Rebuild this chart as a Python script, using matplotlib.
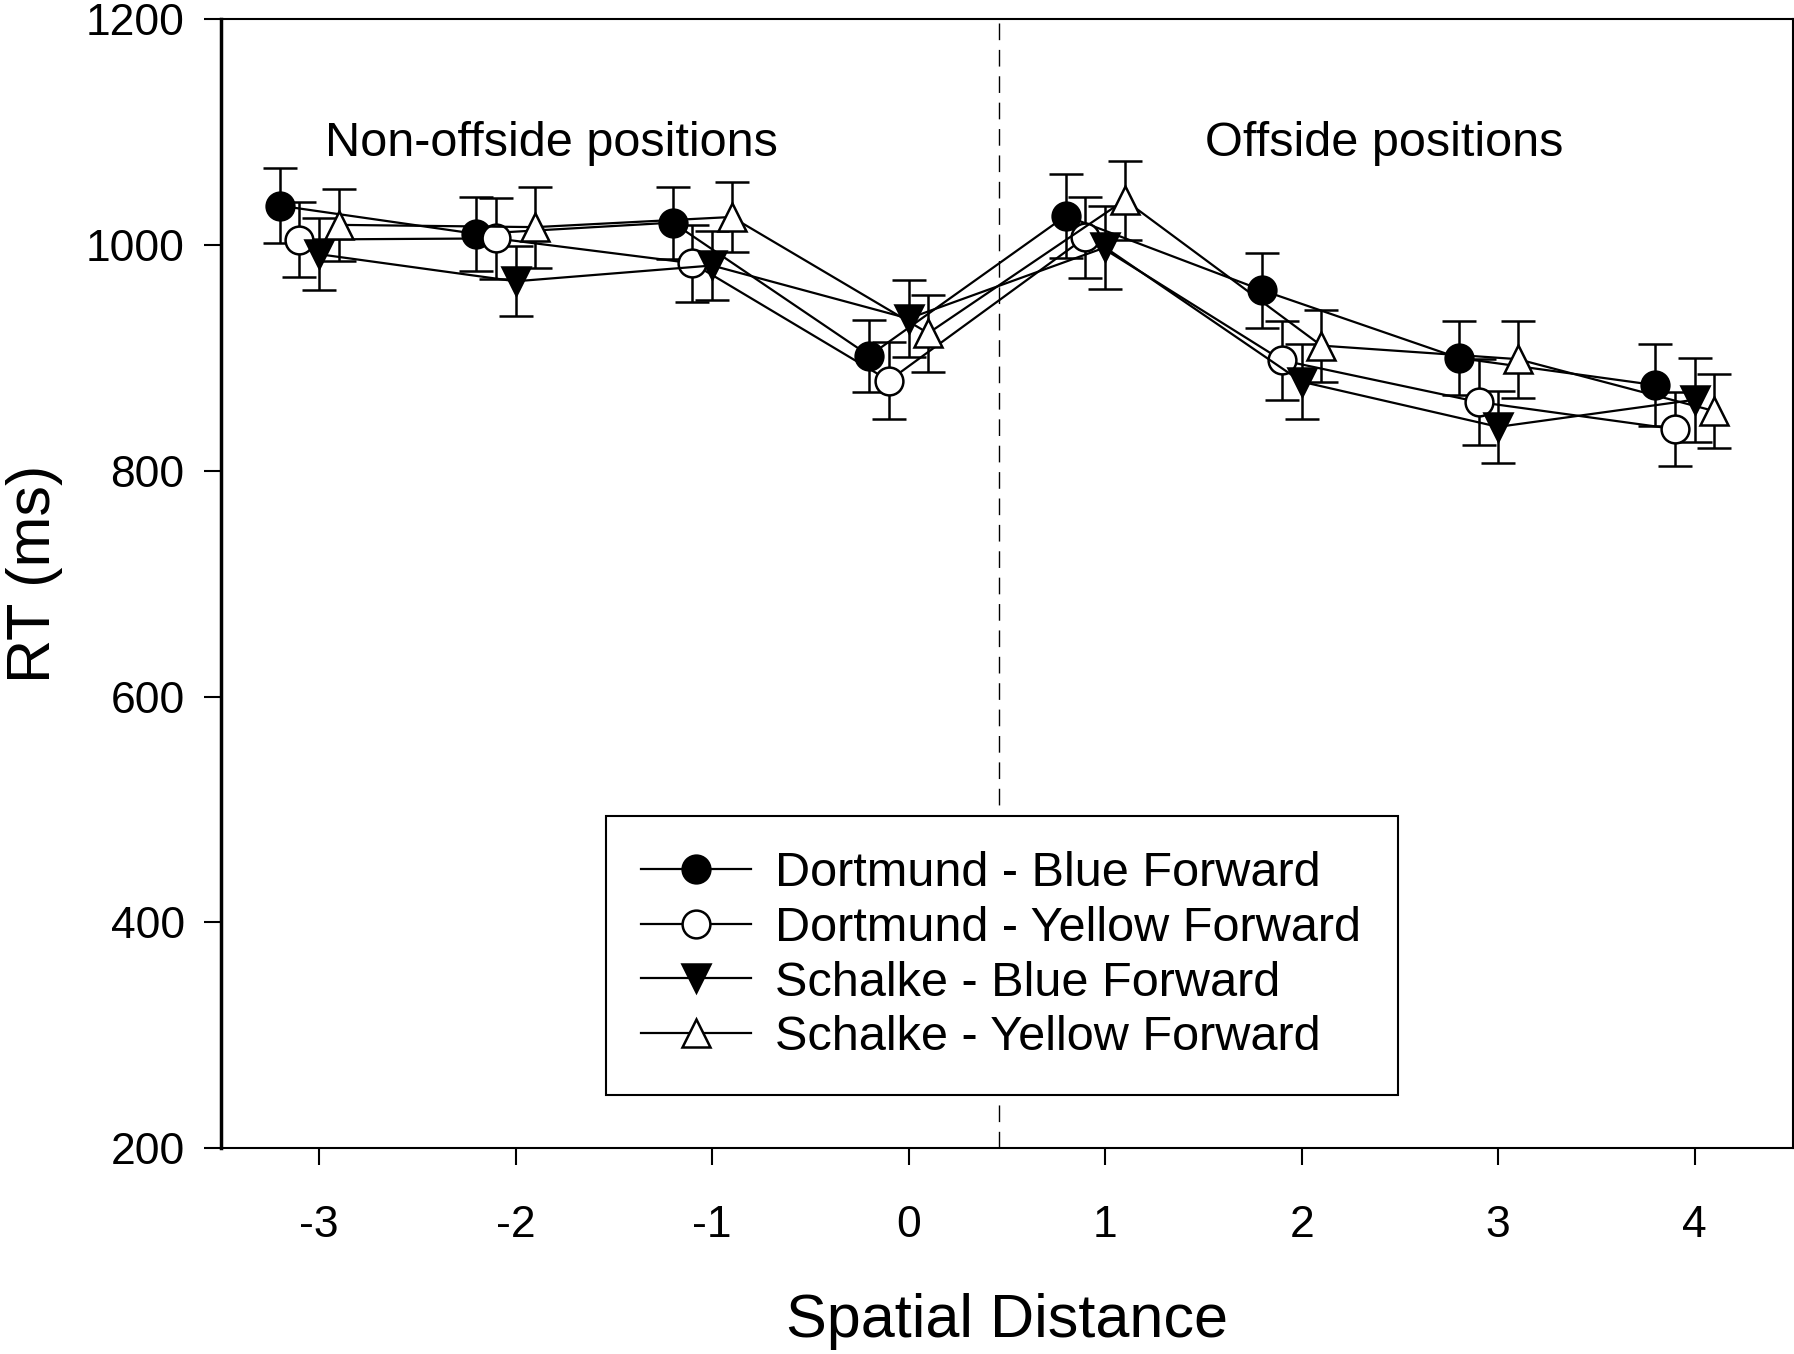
import numpy as np
import matplotlib.pyplot as plt
from matplotlib.lines import Line2D

plt.rcParams['font.family'] = ['Liberation Sans', 'DejaVu Sans']
plt.rcParams['axes.unicode_minus'] = False

# spatial distance positions
distance = [-3, -2, -1, 0, 1, 2, 3, 4]

# mean RT (ms) and error bars per condition
dort_blue = [1035, 1010, 1020, 902, 1026, 960, 900, 876]
dort_blue_err = [33, 33, 32, 32, 37, 33, 33, 36]
dort_yellow = [1005, 1006, 984, 880, 1007, 898, 861, 837]
dort_yellow_err = [33, 36, 34, 34, 36, 35, 38, 33]
schalke_blue = [992, 968, 982, 935, 998, 879, 839, 863]
schalke_blue_err = [32, 31, 31, 34, 37, 33, 32, 37]
schalke_yellow = [1018, 1016, 1025, 922, 1040, 911, 899, 853]
schalke_yellow_err = [32, 36, 31, 34, 35, 32, 34, 33]

labels = ['Dortmund - Blue Forward', 'Dortmund - Yellow Forward',
          'Schalke - Blue Forward', 'Schalke - Yellow Forward']

fig = plt.figure(figsize=(17.94, 13.54), dpi=100)
ax = fig.add_axes([0.1231, 0.1522, 0.8763, 0.8334])

x = np.array(distance, dtype=float)
series = [
    (x - 0.2, dort_blue, dort_blue_err, 'o', 'black'),
    (x - 0.1, dort_yellow, dort_yellow_err, 'o', 'white'),
    (x, schalke_blue, schalke_blue_err, 'v', 'black'),
    (x + 0.1, schalke_yellow, schalke_yellow_err, '^', 'white'),
]
handles = []
for (xs, ys, es, m, fc), lab in zip(series, labels):
    ax.errorbar(xs, ys, yerr=es, color='black', lw=1.6, marker=m,
                markersize=20, markerfacecolor=fc, markeredgecolor='black',
                markeredgewidth=1.8, capsize=12.5, capthick=1.8,
                elinewidth=1.8)
    handles.append(Line2D([], [], color='black', lw=1.6, marker=m,
                          markersize=20, markerfacecolor=fc,
                          markeredgecolor='black', markeredgewidth=1.8,
                          label=lab))

ax.axvline(0.46, color='black', lw=1.0, ls=(0, (12, 7)))

ax.text(-1.82, 1090, 'Non-offside positions', ha='center', va='center',
        fontsize=35)
ax.text(2.42, 1090, 'Offside positions', ha='center', va='center',
        fontsize=35)

ax.set_xlim(-3.5, 4.5)
ax.set_ylim(200, 1200)
ax.set_xticks(distance)
ax.set_yticks(np.arange(200, 1201, 200))
ax.tick_params(direction='out', length=12, width=1.5, labelsize=32)
ax.tick_params(axis='x', pad=29)
ax.tick_params(axis='y', pad=14)
for s in ax.spines.values():
    s.set_linewidth(1.5)
ax.spines['left'].set_linewidth(2.5)

ax.set_xlabel('Spatial Distance', fontsize=44, va='center')
ax.xaxis.set_label_coords(0.5, -0.154)
ax.set_ylabel('RT (ms)', fontsize=44, va='baseline')
ax.yaxis.set_label_coords(-0.1087, 0.509)

leg = ax.legend(handles=handles, loc='lower left',
                bbox_to_anchor=(0.2453, 0.0467, 0.5037, 0.25),
                mode='expand', fontsize=35, handlelength=2.25,
                borderaxespad=0, fancybox=False, framealpha=1,
                edgecolor='black', borderpad=0.72, labelspacing=0.2,
                handletextpad=0.5)
leg.get_frame().set_linewidth(1.5)

fig.savefig('out.png', dpi=100)
